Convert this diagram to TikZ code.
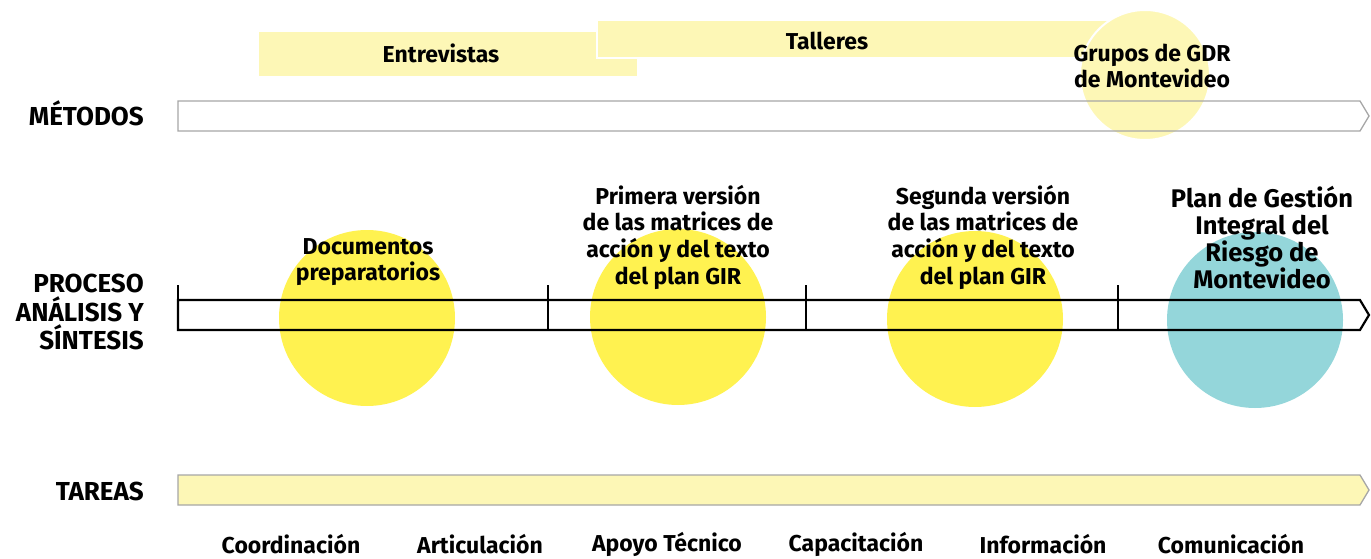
\documentclass[tikz,border=0pt]{standalone}
\usepackage{fontspec}
\setmainfont{Fira Sans}
\usepackage{xcolor}
\usepackage{tikz}
\usetikzlibrary{positioning, calc}
\definecolor{paleYellow}{RGB}{253, 247, 182}
\definecolor{sunYellow}{RGB}{255, 242, 80}
\definecolor{mvdTeal}{RGB}{148, 214, 218}
\definecolor{barGray}{RGB}{166, 166, 166}

\begin{document}
\begin{tikzpicture}[x=1pt, y=-1pt,
    txt/.style={font=\bfseries\fontsize{23}{26.7}\selectfont, align=center, inner sep=0pt},
    rowlbl/.style={font=\bfseries\fontsize{26}{28.5}\selectfont, align=right, anchor=east, inner sep=0pt},
    stage/.style={circle, minimum size=176pt, inner sep=0pt},
    band/.style={fill=paleYellow, draw=white, line width=2pt}]
        \useasboundingbox (0,0) rectangle (1371,559);

        % metodos
        \fill[paleYellow] (259,32) rectangle (637,76);
        \draw[band] (597,20) rectangle (1140,58);
        \node[circle, fill=paleYellow, draw=white, line width=2pt, minimum size=130pt] (gdr) at (1145,75) {};
        \draw[barGray, line width=1.3pt] (178,101) -- (1360,101) -- (1369,116) -- (1360,131) -- (178,131) -- cycle;
        \node[txt] (entrev) at (441,53) {Entrevistas};
        \node[txt] (talleres) at (827,41) {Talleres};
        \node[txt] (gdrtxt) at (1152,66) {Grupos de GDR\\de Montevideo};
        \node[rowlbl] (metodos) at (144,113) {MÉTODOS};

        % proceso
        \node[stage, fill=sunYellow] (doc) at (367,318) {};
        \node[stage, fill=sunYellow] (prim) at (678,317) {};
        \node[stage, fill=sunYellow] (seg) at (975,319) {};
        \node[stage, fill=mvdTeal] (plan) at (1255,320) {};
        \draw[black, line width=2.2pt, line join=miter] (178,300) -- (1360,300) -- (1369,315) -- (1360,330) -- (178,330) -- cycle;
        \foreach \tx in {178, 548, 806, 1118}
            \draw[black, line width=2.2pt] (\tx,285) -- (\tx,330);
        \node[txt] (doctxt) at (368,262) {Documentos\\preparatorios};
        \node[txt] (primtxt) at (678,237) {Primera versión\\de las matrices de\\acción y del texto\\del plan GIR};
        \node[txt] (segtxt) at (983,237) {Segunda versión\\de las matrices de\\acción y del texto\\del plan GIR};
        \node[txt, font=\bfseries\fontsize{25.5}{27}\selectfont] (plantxt) at (1262,238) {Plan de Gestión\\Integral del\\Riesgo de\\Montevideo};
        \node[rowlbl] (proceso) at (144,312) {PROCESO\\ANÁLISIS Y\\SÍNTESIS};

        % tareas
        \draw[fill=paleYellow, draw=barGray, line width=1.3pt] (178,475) -- (1360,475) -- (1369,490) -- (1360,505) -- (178,505) -- cycle;
        \node[rowlbl] (tareas) at (144,491) {TAREAS};
        \node[txt] (coord) at (291,544) {Coordinación};
        \node[txt] (artic) at (480,544) {Articulación};
        \node[txt] (apoyo) at (667,544) {Apoyo Técnico};
        \node[txt] (capac) at (856,544) {Capacitación};
        \node[txt] (info) at (1043,544) {Información};
        \node[txt] (comun) at (1231,544) {Comunicación};
    \end{tikzpicture}
\end{document}
